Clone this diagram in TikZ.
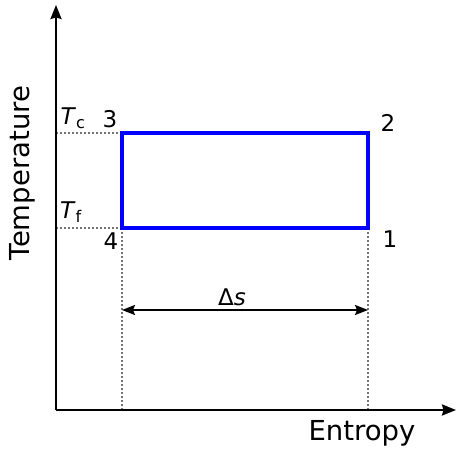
\documentclass[tikz,border=0pt]{standalone}
\usepackage{fontspec}
\setmainfont{DejaVu Sans}
\usetikzlibrary{arrows.meta}
\begin{document}
\begin{tikzpicture}[x=1pt,y=-1pt,
  axis/.style={line width=2.2pt,-{Stealth[length=14pt,width=11pt,inset=1.5pt]}},
  guide/.style={dash pattern=on 2pt off 2pt,line width=1.3pt,black!55},
  cycle/.style={line width=3.5pt,blue},
  tip/.style={Stealth[length=13pt,width=10pt,inset=2pt]},
  lbl/.style={font=\fontsize{23}{25}\selectfont,inner sep=0pt},
  axlbl/.style={font=\fontsize{27.5}{30}\selectfont,inner sep=0pt}]
\useasboundingbox (0,0) rectangle (456,450);
\coordinate (O) at (56,410);
\coordinate (Ytop) at (56,5);
\coordinate (Xend) at (456,410);
\coordinate (p1) at (368,228);
\coordinate (p2) at (368,133);
\coordinate (p3) at (122,133);
\coordinate (p4) at (122,228);
\coordinate (yc) at (56,133);
\coordinate (yf) at (56,228);
\coordinate (b4) at (122,410);
\coordinate (b1) at (368,410);
\coordinate (dsL) at (122,310);
\coordinate (dsR) at (368,310);
\draw[guide] (yc) -- (p3);
\draw[guide] (yf) -- (p4);
\draw[guide] (p4) -- (b4);
\draw[guide] (p1) -- (b1);
\draw[axis] (O) -- (Ytop);
\draw[axis] (O) -- (Xend);
\draw[cycle] (p1) -- (p2) -- (p3) -- (p4) -- cycle;
\draw[line width=1.8pt,{Stealth[length=13pt,width=10pt,inset=2pt]}-{Stealth[length=13pt,width=10pt,inset=2pt]}] (dsL) -- (dsR);
\node[lbl] (ds) at (232,297) {Δ\textit{s}};
\node[lbl] (n1) at (390,239) {1};
\node[lbl] (n2) at (388,123) {2};
\node[lbl] (n3) at (110,119) {3};
\node[lbl] (n4) at (111,241) {4};
\node[lbl] (tc) at (73,118) {\textit{T}\textsubscript{c}};
\node[lbl] (tf) at (71,212) {\textit{T}\textsubscript{f}};
\node[axlbl,rotate=90] (temp) at (22,173) {Temperature};
\node[axlbl] (ent) at (362,433) {Entropy};
\end{tikzpicture}
\end{document}
